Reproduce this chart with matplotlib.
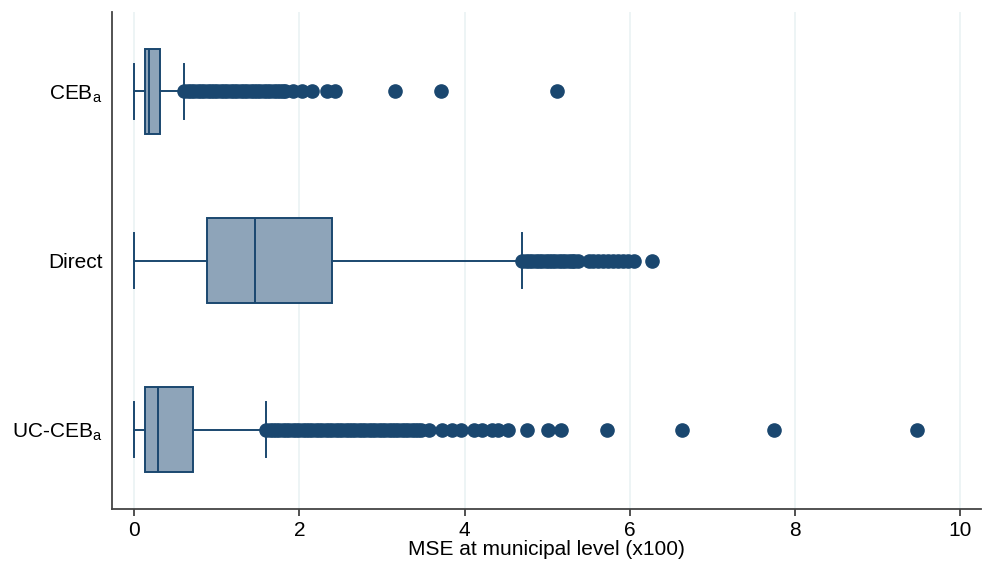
import matplotlib
matplotlib.use("Agg")
import matplotlib.pyplot as plt

plt.rcParams['font.family'] = ['Liberation Sans', 'DejaVu Sans']
plt.rcParams['mathtext.fontset'] = 'custom'
plt.rcParams['mathtext.rm'] = 'Liberation Sans'

categories = ["CEB$_\\mathrm{a}$", "Direct", "UC-CEB$_\\mathrm{a}$"]
whislo = [0.0, 0.0, 0.0]
q1 = [0.13, 0.88, 0.13]
med = [0.185, 1.46, 0.29]
q3 = [0.31, 2.40, 0.71]
whishi = [0.61, 4.69, 1.60]

fliers_ceb = [0.61, 0.65, 0.69, 0.73, 0.77, 0.81, 0.85, 0.89, 0.93, 0.97, 1.01,
              1.05, 1.09, 1.13, 1.17, 1.21, 1.25, 1.29, 1.33, 1.37, 1.41, 1.45,
              1.49, 1.53, 1.57, 1.61, 1.65, 1.69, 1.73, 1.77, 1.80, 1.83,
              1.93, 2.03, 2.15, 2.33, 2.43, 3.16, 3.72, 5.12]
fliers_direct = [4.70, 4.74, 4.78, 4.82, 4.86, 4.90, 4.94, 4.98, 5.02, 5.06,
                 5.10, 5.14, 5.18, 5.22, 5.26, 5.30, 5.33, 5.37,
                 5.50, 5.56, 5.62, 5.68, 5.74, 5.80, 5.86, 5.92, 5.98, 6.05, 6.27]
fliers_uc = [1.60, 1.64, 1.68, 1.72, 1.76, 1.80, 1.84, 1.88, 1.92, 1.96, 2.00,
             2.04, 2.08, 2.12, 2.16, 2.20, 2.24, 2.28, 2.32, 2.36, 2.40, 2.44,
             2.48, 2.52, 2.56, 2.60, 2.64, 2.68, 2.72, 2.76, 2.80, 2.84, 2.88,
             2.92, 2.96, 3.00, 3.04, 3.08, 3.12, 3.16, 3.20, 3.24, 3.28, 3.32,
             3.36, 3.40, 3.44, 3.47, 3.57, 3.73, 3.85, 3.96, 4.11, 4.21, 4.33,
             4.41, 4.52, 4.75, 5.01, 5.17, 5.72, 6.63, 7.75, 9.48]
fliers = [fliers_ceb, fliers_direct, fliers_uc]

xticks = [0, 2, 4, 6, 8, 10]
xlabel = "MSE at municipal level (x100)"

navy = "#1a476f"
fill = "#8ea4b9"

fig = plt.figure(figsize=(9.86, 5.67), dpi=100)
ax = fig.add_axes([0.1136, 0.1023, 0.995 - 0.1136, 0.9788 - 0.1023])

stats = []
for i in range(3):
    stats.append(dict(whislo=whislo[i], q1=q1[i], med=med[i], q3=q3[i],
                      whishi=whishi[i], fliers=fliers[i], label=categories[i]))

ax.bxp(stats, positions=[1, 2, 3], vert=False, widths=0.5, capwidths=0.33,
       patch_artist=True, showfliers=True,
       boxprops=dict(facecolor=fill, edgecolor=navy, linewidth=1.4),
       medianprops=dict(color=navy, linewidth=1.4),
       whiskerprops=dict(color=navy, linewidth=1.4),
       capprops=dict(color=navy, linewidth=1.4),
       flierprops=dict(marker='o', markerfacecolor=navy, markeredgecolor=navy,
                       markersize=9.5, linestyle='none'))

ax.set_ylim(3.47, 0.53)
ax.set_xlim(-0.266, 10.25)
ax.set_xticks(xticks)
ax.set_xticklabels([str(t) for t in xticks])
ax.xaxis.grid(True, color="#eaf2f3", linewidth=1.2)
ax.set_axisbelow(True)
ax.tick_params(axis='x', length=5, width=1.2, color="#333333", labelsize=15, pad=4)
ax.tick_params(axis='y', length=0, labelsize=15, pad=7)
ax.set_xlabel(xlabel, fontsize=15, labelpad=0)

for s in ['top', 'right']:
    ax.spines[s].set_visible(False)
for s in ['left', 'bottom']:
    ax.spines[s].set_color("#444444")
    ax.spines[s].set_linewidth(1.3)

fig.savefig("out.png", dpi=100)
